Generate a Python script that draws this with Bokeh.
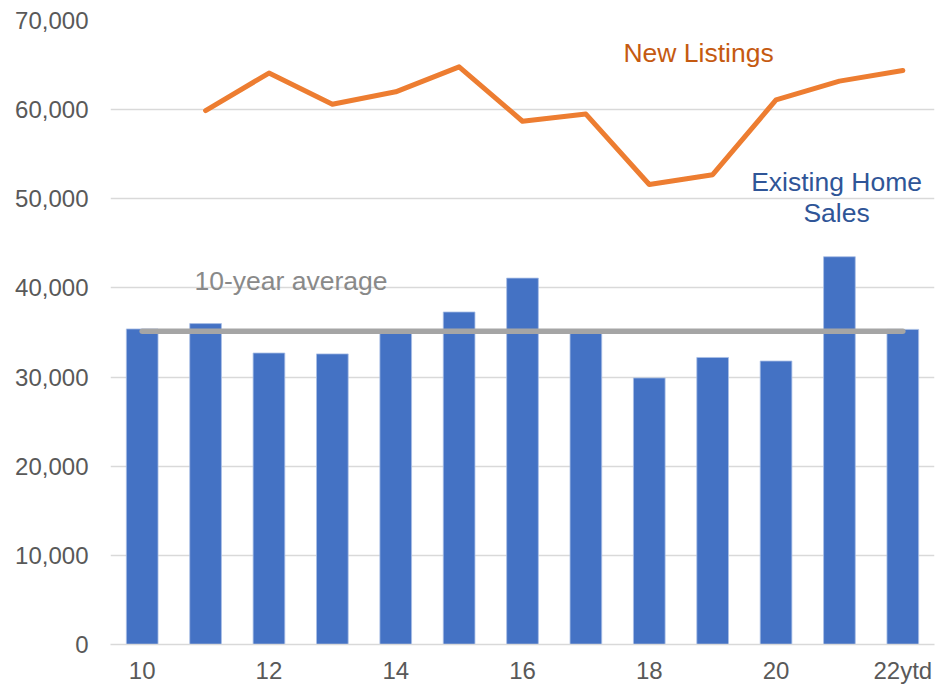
from bokeh.plotting import figure
from bokeh.models import Range1d, Label, NumeralTickFormatter, FixedTicker
from bokeh.embed import file_html
from bokeh.resources import INLINE

# ---- data ----
years = ["10", "11", "12", "13", "14", "15", "16", "17", "18", "19", "20", "21", "22ytd"]
shown_year_labels = ["10", "12", "14", "16", "18", "20", "22ytd"]
existing_sales = [35400, 36000, 32700, 32600, 35000, 37300, 41100, 34900, 29900, 32200, 31800, 43500, 35350]
listing_years = ["11", "12", "13", "14", "15", "16", "17", "18", "19", "20", "21", "22ytd"]
new_listings = [59900, 64100, 60600, 62000, 64800, 58700, 59500, 51600, 52700, 61100, 63200, 64400]
avg_years = ["10", "22ytd"]
ten_year_avg = [35150, 35150]
y_ticks = [0, 10000, 20000, 30000, 40000, 50000, 60000, 70000]

FONT = "Liberation Sans"

# category positions on a numeric axis
pos = {y: i for i, y in enumerate(years)}
bar_x = [pos[y] for y in years]
listing_x = [pos[y] for y in listing_years]
avg_x = [pos[y] for y in avg_years]
label_ticks = [pos[y] for y in shown_year_labels]

p = figure(
    width=936, height=686,
    x_range=Range1d(-0.5, len(years) - 0.5),
    y_range=Range1d(0, 70000),
    output_backend="svg", toolbar_location=None,
    min_border_left=110, min_border_right=2, min_border_top=20, min_border_bottom=41,
)
p.outline_line_color = None
p.background_fill_color = "white"
p.border_fill_color = "white"

# grid
p.xgrid.grid_line_color = None
p.ygrid.grid_line_color = "#D9D9D9"
p.ygrid.grid_line_width = 1.5

# y axis
p.yaxis.ticker = FixedTicker(ticks=y_ticks)
p.yaxis.formatter = NumeralTickFormatter(format="0,0")
p.yaxis.axis_line_color = None
p.yaxis.major_tick_line_color = None
p.yaxis.minor_tick_line_color = None
p.yaxis.major_label_text_font = FONT
p.yaxis.major_label_text_font_size = "24px"
p.yaxis.major_label_text_color = "#595959"
p.yaxis.major_label_standoff = 16

# x axis
p.xaxis.ticker = FixedTicker(ticks=label_ticks)
p.xaxis.major_label_overrides = {pos[y]: y for y in shown_year_labels}
p.xaxis.axis_line_color = "#D9D9D9"
p.xaxis.axis_line_width = 1.5
p.xaxis.major_tick_line_color = None
p.xaxis.minor_tick_line_color = None
p.xaxis.major_label_text_font = FONT
p.xaxis.major_label_text_font_size = "24px"
p.xaxis.major_label_text_color = "#595959"
p.xaxis.major_label_standoff = 6

# bars
p.vbar(x=bar_x, top=existing_sales, width=0.5, fill_color="#4472C4",
       line_color="#A9BFE6", line_width=0.8)

# 10-year average
p.line(x=avg_x, y=ten_year_avg, line_color="#A5A5A5", line_width=5.5, line_cap="round")

# new listings
p.line(x=listing_x, y=new_listings, line_color="#ED7D31", line_width=5,
       line_join="round", line_cap="round")

# annotations
TS = "26.5px"
p.add_layout(Label(x=8.777, y=66300, text="New Listings", text_align="center",
                   text_baseline="middle", text_font=FONT, text_font_size=TS,
                   text_color="#C55A11"))
p.add_layout(Label(x=10.955, y=51850, text="Existing Home", text_align="center",
                   text_baseline="middle", text_font=FONT, text_font_size=TS,
                   text_color="#2F5597"))
p.add_layout(Label(x=10.955, y=48380, text="Sales", text_align="center",
                   text_baseline="middle", text_font=FONT, text_font_size=TS,
                   text_color="#2F5597"))
p.add_layout(Label(x=0.825, y=40770, text="10-year average", text_align="left",
                   text_baseline="middle", text_font=FONT, text_font_size=TS,
                   text_color="#898989"))

open("out.html", "w").write(file_html(p, INLINE))
